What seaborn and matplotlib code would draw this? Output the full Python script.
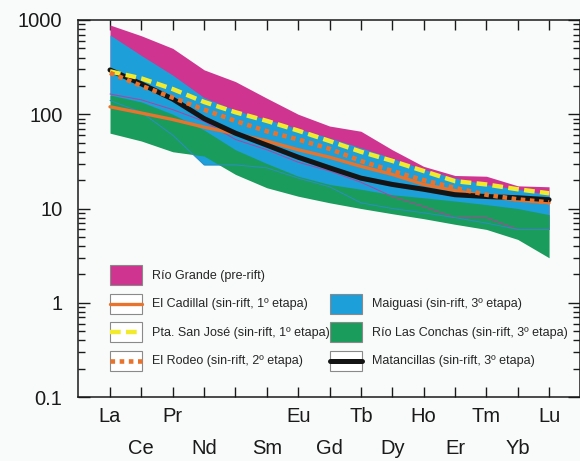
import numpy as np
import matplotlib
matplotlib.use("Agg")
import matplotlib.pyplot as plt
import seaborn as sns
from matplotlib.patches import Patch, Rectangle
from matplotlib.lines import Line2D
from matplotlib.legend_handler import HandlerBase
from matplotlib.ticker import NullFormatter

# REE normalised patterns
elements = ['La', 'Ce', 'Pr', 'Nd', 'Pm', 'Sm', 'Eu', 'Gd', 'Tb', 'Dy', 'Ho', 'Er', 'Tm', 'Yb', 'Lu']
tick_top = ['La', 'Pr', '', 'Eu', 'Tb', 'Ho', 'Tm', 'Lu']
tick_bottom = ['Ce', 'Nd', 'Sm', 'Gd', 'Dy', 'Er', 'Yb']

# fields (min / max)
rio_grande_hi = [885, 680, 500, 296, 222, 148, 100, 75, 66, 42, 28, 22.4, 22, 17.4, 17]
rio_grande_lo = [164, 142, 112, 84, 54, 42, 31, 25, 19, 13.4, 10.5, 8, 8, 6, 6]
maiguasi_hi = [693, 420, 260, 150, 110, 88, 70, 56, 44, 34, 26, 21, 18, 16, 14]
maiguasi_lo = [140, 105, 60, 29, 29, 27, 21, 17, 11.5, 10, 9, 8, 7, 6, 6]
conchas_hi = [160, 135, 100, 68, 42, 30, 22, 18, 16, 14, 13, 12, 11, 10, 8.6]
conchas_lo = [63, 52, 40, 36, 23, 16.6, 13.5, 11.5, 10, 8.8, 7.8, 6.8, 6, 4.7, 3]

# single patterns
cadillal = [120, 103, 88, 73, 62, 52, 42, 35, 28, 23, 18, 15.5, 13.5, 12.3, 11.5]
san_jose = [285, 240, 185, 135, 105, 85, 67, 52, 40, 32, 25, 19.5, 18, 16, 14.5]
rodeo = [275, 200, 150, 112, 85, 66, 54, 43, 32, 25, 20, 16.5, 14, 12.5, 11.6]
matancillas = [295, 210, 145, 90, 63, 47, 35, 27, 21, 18, 16, 14, 13.4, 13, 12.4]

labels = ['Río Grande (pre-rift)', 'El Cadillal (sin-rift, 1º etapa)',
          'Pta. San José (sin-rift, 1º etapa)', 'El Rodeo (sin-rift, 2º etapa)',
          'Maiguasi (sin-rift, 3º etapa)', 'Río Las Conchas (sin-rift, 3º etapa)',
          'Matancillas (sin-rift, 3º etapa)']

pink = '#cf3590'
blue = '#1d9fda'
green = '#1a9c5c'
orange = '#e8732d'
yellow = '#f2ea2c'
black = '#141414'
bg = '#f9fafa'
edge = '#8a8a8a'

sns.set_theme(style='ticks')
plt.rcParams['font.family'] = ['Liberation Sans', 'DejaVu Sans']

x = np.arange(len(elements))

fig = plt.figure(figsize=(5.8, 4.61), dpi=100, facecolor=bg)
ax = fig.add_axes([77.7 / 580, (461 - 397) / 461, (579.5 - 77.7) / 580, (397 - 20) / 461])
ax.set_facecolor(bg)

# fields
ax.fill_between(x, rio_grande_lo, rio_grande_hi, color=pink, lw=0, zorder=1)
ax.fill_between(x, maiguasi_lo, maiguasi_hi, color=blue, lw=0, zorder=2)
ax.fill_between(x, conchas_lo, conchas_hi, color=green, lw=0, zorder=3)
ax.plot(x, rio_grande_lo, color='#b4409e', lw=0.7, zorder=4)
ax.plot(x, maiguasi_lo, color='#2a8ec4', lw=0.7, zorder=4)

# patterns
sns.lineplot(x=x, y=cadillal, ax=ax, color=orange, lw=2.4, zorder=5)
sns.lineplot(x=x, y=matancillas, ax=ax, color=black, lw=3.6, zorder=6)
sns.lineplot(x=x, y=san_jose, ax=ax, color=yellow, lw=3.2, linestyle=(0, (2.4, 1.2)), zorder=7)
sns.lineplot(x=x, y=rodeo, ax=ax, color=orange, lw=3.3, linestyle=(0, (1, 1)), zorder=8)

ax.set_yscale('log')
ax.set_ylim(0.1, 1000)
ax.set_xlim(-1.03, 14.97)
ax.set_xlabel('')
ax.set_ylabel('')

ax.set_yticks([0.1, 1, 10, 100, 1000])
ax.set_yticklabels(['0.1', '1', '10', '100', '1000'])
ax.yaxis.set_minor_formatter(NullFormatter())
ax.set_xticks(x[::2])
ax.set_xticklabels(tick_top)
ax.set_xticks(x[1::2], minor=True)
ax.set_xticklabels(tick_bottom, minor=True)

ax.tick_params(axis='both', which='both', direction='in', top=True, right=True,
               colors='#1a1a1a', labelcolor='#1a1a1a', labelsize=14.5, width=1)
ax.tick_params(axis='x', which='both', length=7)
ax.tick_params(axis='x', which='major', pad=7)
ax.tick_params(axis='x', which='minor', pad=30)
ax.tick_params(axis='y', which='major', length=8.6, pad=11)
ax.tick_params(axis='y', which='minor', length=5)
for sp in ax.spines.values():
    sp.set_linewidth(1.1)
    sp.set_color('#1a1a1a')


# legend key: white box with the line centred in it
class BoxLine(HandlerBase):
    def create_artists(self, legend, orig, xd, yd, w, h, fontsize, trans):
        r = Rectangle((-xd, -yd), w, h, fc='white', ec=edge, lw=0.8, transform=trans)
        ln = Line2D([-xd, -xd + w], [-yd + h / 2] * 2, color=orig.get_color(),
                    lw=orig.get_linewidth(), ls=orig.get_linestyle(), transform=trans)
        ln.set_dashes(orig._unscaled_dash_pattern[1]) if orig._unscaled_dash_pattern[1] else None
        return [r, ln]


def box(fc):
    return Patch(facecolor=fc, edgecolor=edge, lw=0.8)


l_cad = Line2D([], [], color=orange, lw=2.4)
l_sj = Line2D([], [], color=yellow, lw=3.2, ls=(0, (2.4, 1.2)))
l_rod = Line2D([], [], color=orange, lw=3.3, ls=(0, (1, 1)))
l_mat = Line2D([], [], color=black, lw=3.6)
handles = [box(pink), l_cad, l_sj, l_rod, Patch(alpha=0), box(blue), box(green), l_mat]
leg_labels = labels[:4] + [''] + labels[4:]
fs = 9
fpx = fs * 100 / 72
hh = (20 / fpx - 0.245) / 0.65
ax.legend(handles, leg_labels, ncol=2, loc='upper left',
          bbox_to_anchor=(110 / 580, 1 - 265 / 461), bbox_transform=fig.transFigure,
          frameon=False, fontsize=fs, borderpad=0, borderaxespad=0,
          handlelength=32 / fpx, handleheight=hh, labelspacing=8.5 / fpx,
          handletextpad=10 / fpx, columnspacing=0.5 / fpx,
          handler_map={Line2D: BoxLine()})

fig.savefig('out.png', dpi=100, facecolor=bg)
